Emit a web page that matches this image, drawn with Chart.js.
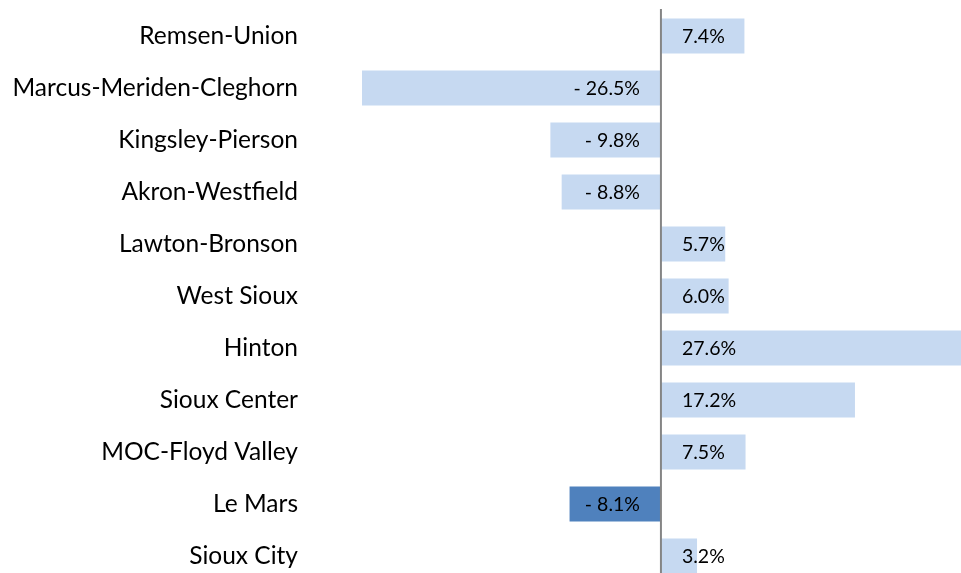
<!DOCTYPE html>
<html>
<head>
<meta charset="utf-8">
<script src="https://cdn.jsdelivr.net/npm/chart.js@4"></script>
<style>
  html, body { margin: 0; padding: 0; background: #fff; overflow: hidden; }
</style>
</head>
<body>
<canvas id="chart" width="961" height="590"></canvas>
<script>
const districts = ['Remsen-Union', 'Marcus-Meriden-Cleghorn', 'Kingsley-Pierson', 'Akron-Westfield',
  'Lawton-Bronson', 'West Sioux', 'Hinton', 'Sioux Center', 'MOC-Floyd Valley', 'Le Mars', 'Sioux City'];
const changePct = [7.4, -26.5, -9.8, -8.8, 5.7, 6.0, 27.6, 17.2, 7.5, -8.1, 3.2];
const highlight = 'Le Mars';

const LIGHT = '#c6d9f1';
const DARK = '#4f81bd';

const fmt = v => (v < 0 ? '- ' + Math.abs(v).toFixed(1) : v.toFixed(1)) + '%';

const labelPlugin = {
  id: 'labels',
  afterDatasetsDraw(chart) {
    const { ctx, chartArea } = chart;
    const x0 = chart.scales.x.getPixelForValue(0);
    // zero line
    ctx.save();
    ctx.strokeStyle = '#858585';
    ctx.lineWidth = 2;
    ctx.beginPath();
    ctx.moveTo(x0, chartArea.top - 1);
    ctx.lineTo(x0, chartArea.bottom);
    ctx.stroke();
    // value labels
    ctx.font = '19.5px Lato';
    ctx.fillStyle = '#000';
    ctx.textBaseline = 'middle';
    chart.getDatasetMeta(0).data.forEach((bar, i) => {
      const v = changePct[i];
      if (v >= 0) {
        ctx.textAlign = 'left';
        ctx.fillText(fmt(v), x0 + 21, bar.y + 1);
      } else {
        ctx.textAlign = 'right';
        ctx.fillText(fmt(v), x0 - 21, bar.y + 1);
      }
    });
    ctx.restore();
  }
};

new Chart(document.getElementById('chart'), {
  type: 'bar',
  data: {
    labels: districts,
    datasets: [{
      data: changePct,
      backgroundColor: districts.map(d => d === highlight ? DARK : LIGHT),
      borderWidth: 0,
      categoryPercentage: 1,
      barPercentage: 0.67,
    }],
  },
  options: {
    indexAxis: 'y',
    responsive: false,
    animation: false,
    layout: { padding: { top: 10, bottom: 8, left: 0, right: 0 } },
    plugins: { legend: { display: false }, tooltip: { enabled: false } },
    scales: {
      x: { display: false, min: -26.5, max: 26.6 },
      y: {
        grid: { display: false, drawTicks: false },
        border: { display: false },
        ticks: { padding: 64, color: '#000', font: { family: 'Lato', size: 24.5 } },
        afterFit(scale) {
          scale.width = 362;
          scale.paddingTop = 0;
          scale.paddingBottom = 0;
        },
      },
    },
  },
  plugins: [labelPlugin],
});
</script>
</body>
</html>
